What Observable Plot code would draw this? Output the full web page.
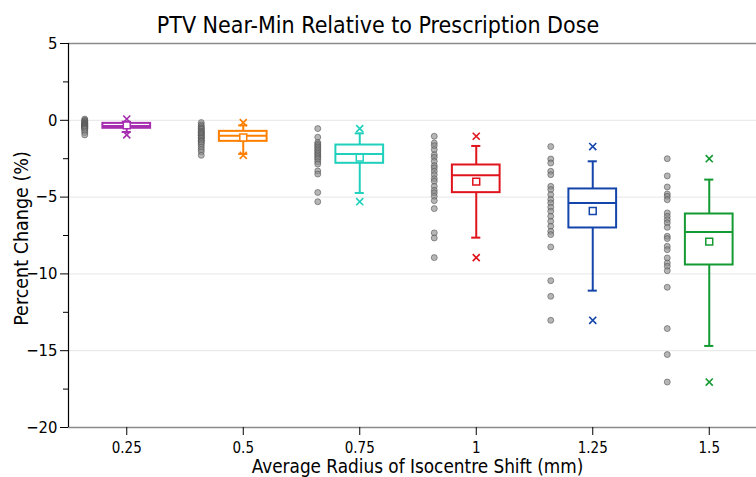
<!DOCTYPE html>
<html>
<head>
<meta charset="utf-8">
<script src="https://cdn.jsdelivr.net/npm/d3@7"></script>
<script src="https://cdn.jsdelivr.net/npm/@observablehq/plot@0.6"></script>
<style>
  html, body { margin: 0; padding: 0; background: #fff; overflow: hidden; }
  #title { width: 756px; height: 30px; line-height: 51px; text-align: center; overflow: visible;
    font-family: "DejaVu Sans Condensed", "DejaVu Sans", sans-serif; font-stretch: condensed;
    font-size: 23px; color: #000; white-space: nowrap; }
  #chart svg { background: transparent; }
</style>
</head>
<body>
<div id="title">PTV Near-Min Relative to Prescription Dose</div>
<div id="chart"></div>
<script>
// ---------- data ----------
const categories = [0.25, 0.5, 0.75, 1, 1.25, 1.5];
const tickLabels = ["0.25", "0.5", "0.75", "1", "1.25", "1.5"];
const q1        = [-0.52, -1.37, -2.80, -4.71, -7.01, -9.42];
const median    = [-0.37, -1.00, -2.19, -3.58, -5.38, -7.27];
const q3        = [-0.20, -0.72, -1.61, -2.91, -4.47, -6.10];
const whiskLow  = [-0.76, -2.19, -4.73, -7.64, -11.09, -14.69];
const whiskHigh = [-0.09, -0.33, -0.85, -1.67, -2.67, -3.86];
const meanVal   = [-0.33, -1.12, -2.43, -3.99, -5.90, -7.90];
const minVal    = [-0.95, -2.28, -5.30, -8.94, -13.02, -17.04];
const maxVal    = [0.08, -0.15, -0.54, -1.04, -1.71, -2.50];

const pts025 = [0.08, 0.0, -0.05, -0.1, -0.15, -0.2, -0.2, -0.25, -0.3, -0.3, -0.35, -0.4, -0.4, -0.45, -0.5, -0.5, -0.55, -0.6, -0.7, -0.8, -0.95];
const pts050 = [-0.15, -0.3, -0.4, -0.5, -0.55, -0.6, -0.7, -0.75, -0.8, -0.85, -0.9, -1.0, -1.0, -1.1, -1.15, -1.2, -1.3, -1.35, -1.4, -1.5, -1.6, -1.75, -1.9, -2.05, -2.28];
const pts075 = [-0.54, -1.1, -1.45, -1.55, -1.65, -1.75, -1.85, -1.95, -2.05, -2.15, -2.25, -2.35, -2.45, -2.55, -2.7, -2.85, -3.3, -3.5, -4.7, -5.3];
const pts100 = [-1.04, -1.48, -1.65, -1.91, -2.24, -2.41, -2.67, -2.95, -3.1, -3.32, -3.54, -3.8, -3.97, -4.3, -4.56, -4.73, -4.95, -5.23, -5.75, -7.33, -7.66, -8.94];
const pts125 = [-1.71, -2.52, -2.78, -3.32, -3.54, -4.3, -4.51, -4.84, -5.16, -5.38, -5.66, -5.92, -6.25, -6.58, -6.9, -7.23, -7.44, -8.25, -10.44, -11.46, -13.02];
const pts150 = [-2.5, -3.62, -4.34, -4.8, -4.95, -5.17, -6.03, -6.25, -6.47, -6.68, -6.97, -7.55, -7.7, -8.2, -8.42, -8.96, -9.29, -9.5, -9.79, -10.87, -13.56, -15.25, -17.04];
const pointGroups = [pts025, pts050, pts075, pts100, pts125, pts150];

const yTicks = [5, 0, -5, -10, -15, -20];
const yMinorTicks = [2.5, -2.5, -7.5, -12.5, -17.5];
const gridValues = [0, -5, -10, -15];
const xTitle = "Average Radius of Isocentre Shift (mm)";
const yTitle = "Percent Change (%)";

// ---------- styles ----------
const palette = ["#a62db0", "#ff7f00", "#1fd1bd", "#e0141c", "#1445aa", "#149a32"];
const xDomain = [0.125, 1.625];
const boxHalf = 0.0512;
const capHalf = 0.0098;
const font = "'DejaVu Sans Condensed', 'DejaVu Sans', sans-serif";

const stats = categories.map((c, i) => ({
  x: c, q1: q1[i], median: median[i], q3: q3[i], lo: whiskLow[i], hi: whiskHigh[i],
  mean: meanVal[i], min: minVal[i], max: maxVal[i], color: palette[i]
}));
const points = pointGroups.flatMap((arr, i) => arr.map(v => ({x: categories[i], y: v})));

const chart = Plot.plot({
  width: 756,
  height: 447,
  marginTop: 13,
  marginBottom: 50,
  marginLeft: 68,
  marginRight: 0,
  style: {fontFamily: font, fontStretch: "condensed", background: "transparent", color: "black", overflow: "visible"},
  x: {domain: xDomain, range: [68, 767]},
  y: {domain: [-20, 5]},
  color: {type: "identity"},
  marks: [
    Plot.ruleY(gridValues, {stroke: "#e6e6e6", strokeWidth: 1}),
    Plot.ruleY([5], {stroke: "#8a8a8a", strokeWidth: 1.5}),
    Plot.ruleY([-20], {stroke: "#8a8a8a", strokeWidth: 1.5}),
    Plot.ruleX([xDomain[0]], {stroke: "black", strokeWidth: 1.2}),
    Plot.axisY({ticks: yTicks, tickSize: 8, tickPadding: 3, fontSize: 16.5, label: null, stroke: "black"}),
    Plot.axisY({ticks: yMinorTicks, tickSize: 5, tickFormat: () => "", label: null}),
    Plot.axisX({ticks: categories, tickFormat: d => tickLabels[categories.indexOf(d)],
      tickSize: 8, tickPadding: 7, fontSize: 15, label: null}),
    Plot.text([yTitle], {frameAnchor: "left", textAnchor: "middle", rotate: -90, dx: -47, dy: 3, fontSize: 19.5}),
    Plot.text([xTitle], {frameAnchor: "bottom", dx: 5, dy: 45, fontSize: 18.8}),
    // raw points
    Plot.dot(points, {x: "x", y: "y", dx: -42, r: 3, fill: "#8f8f8f", fillOpacity: 0.65,
      stroke: "#4a4a4a", strokeOpacity: 0.55, strokeWidth: 1}),
    // whiskers
    Plot.ruleX(stats, {x: "x", y1: "q3", y2: "hi", stroke: "color", strokeWidth: 2}),
    Plot.ruleX(stats, {x: "x", y1: "lo", y2: "q1", stroke: "color", strokeWidth: 2}),
    Plot.ruleY(stats, {y: "hi", x1: d => d.x - capHalf, x2: d => d.x + capHalf, stroke: "color", strokeWidth: 2}),
    Plot.ruleY(stats, {y: "lo", x1: d => d.x - capHalf, x2: d => d.x + capHalf, stroke: "color", strokeWidth: 2}),
    // boxes
    Plot.rect(stats, {x1: d => d.x - boxHalf, x2: d => d.x + boxHalf, y1: "q1", y2: "q3",
      stroke: "color", strokeWidth: 2, fill: "white"}),
    Plot.ruleY(stats, {y: "median", x1: d => d.x - boxHalf, x2: d => d.x + boxHalf, stroke: "color", strokeWidth: 2}),
    // mean
    Plot.dot(stats, {x: "x", y: "mean", symbol: "square", r: 3.9, stroke: "color", fill: "white", strokeWidth: 1.5}),
    // min/max
    Plot.dot(stats, {x: "x", y: "min", symbol: "times", r: 3.3, stroke: "color", strokeWidth: 1.6}),
    Plot.dot(stats, {x: "x", y: "max", symbol: "times", r: 3.3, stroke: "color", strokeWidth: 1.6})
  ]
});
document.getElementById("chart").appendChild(chart);
</script>
</body>
</html>
